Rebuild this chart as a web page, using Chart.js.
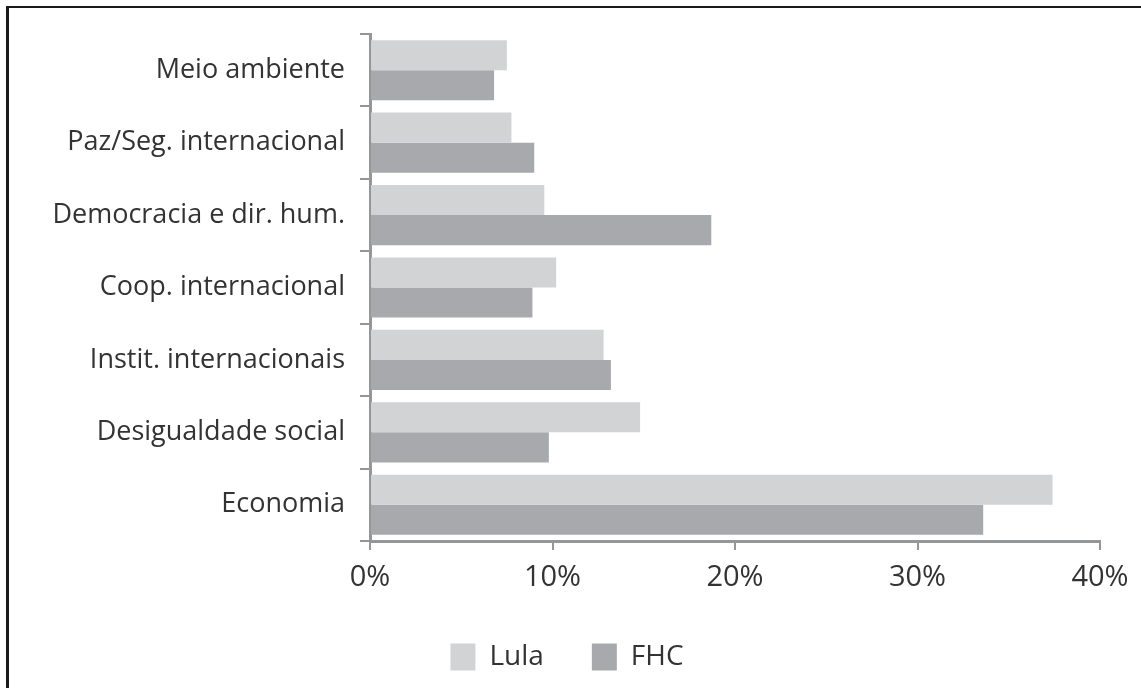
<!DOCTYPE html>
<html lang="pt">
<head>
<meta charset="utf-8">
<title>Temas dos discursos: Lula e FHC</title>
<script src="https://cdn.jsdelivr.net/npm/chart.js@4"></script>
<style>
  html, body { margin: 0; padding: 0; background: #fff; }
  #quadro { position: relative; width: 1141px; height: 688px; overflow: hidden; }
  #moldura {
    position: absolute; left: 6px; top: 6px; right: -10px; bottom: -10px;
    border-top: 2px solid #1a1a1a; border-left: 3px solid #1a1a1a;
    pointer-events: none;
  }
  #grafico { position: absolute; left: 0; top: 0; }
</style>
</head>
<body>
<div id="quadro">
  <canvas id="grafico" width="1141" height="688"></canvas>
  <div id="moldura"></div>
</div>
<script>
// Temas (de cima para baixo)
const temas = [
  "Meio ambiente",
  "Paz/Seg. internacional",
  "Democracia e dir. hum.",
  "Coop. internacional",
  "Instit. internacionais",
  "Desigualdade social",
  "Economia"
];

// Percentual de menções por presidente
const lula = [7.5, 7.75, 9.55, 10.2, 12.8, 14.8, 37.4];
const fhc = [6.8, 9.0, 18.7, 8.9, 13.2, 9.8, 33.6];

// Eixo horizontal
const escalaX = [0, 10, 20, 30, 40];

const corTexto = "#333333";
const corEixo = "#949698";
const familia = "'Open Sans', sans-serif";

const ctx = document.getElementById("grafico").getContext("2d");

new Chart(ctx, {
  type: "bar",
  data: {
    labels: temas,
    datasets: [
      { label: "Lula", data: lula, backgroundColor: "#d1d3d4" },
      { label: "FHC", data: fhc, backgroundColor: "#a7a9ac" }
    ]
  },
  options: {
    indexAxis: "y",
    responsive: false,
    animation: false,
    categoryPercentage: 0.83,
    barPercentage: 1.0,
    layout: { padding: { top: 34, left: 34, right: 41, bottom: 7 } },
    plugins: {
      legend: {
        position: "bottom",
        labels: {
          boxWidth: 25,
          boxHeight: 27,
          padding: 48,
          color: corTexto,
          font: { family: familia, size: 28 }
        }
      },
      tooltip: { enabled: false }
    },
    scales: {
      x: {
        min: escalaX[0],
        max: escalaX[escalaX.length - 1],
        afterBuildTicks: (eixo) => {
          eixo.ticks = escalaX.map(v => ({ value: v }));
        },
        afterFit: (eixo) => { eixo.height = 54; },
        border: { color: corEixo, width: 3 },
        grid: {
          drawOnChartArea: false,
          color: corEixo,
          lineWidth: 2,
          tickLength: 9
        },
        ticks: {
          color: corTexto,
          font: { family: familia, size: 29 },
          padding: 10,
          callback: (v) => v + "%"
        }
      },
      y: {
        afterFit: (eixo) => { eixo.width = 336; },
        border: { color: corEixo, width: 3 },
        grid: {
          drawOnChartArea: false,
          color: corEixo,
          lineWidth: 2,
          tickLength: 10
        },
        ticks: {
          color: corTexto,
          font: { family: familia, size: 27 },
          padding: 15
        }
      }
    }
  }
});
</script>
</body>
</html>
